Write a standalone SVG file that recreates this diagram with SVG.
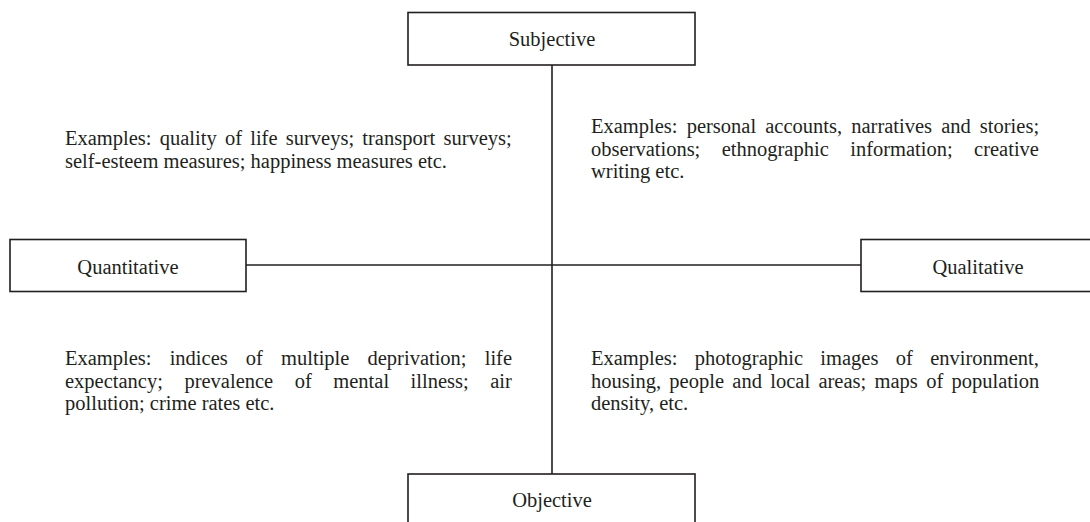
<svg xmlns="http://www.w3.org/2000/svg" width="1090" height="522" viewBox="0 0 1090 522">
<style>
.box{fill:#fff;stroke:#231f20;stroke-width:1.6}
.ln{stroke:#231f20;stroke-width:1.6;fill:none}
.lbl{font-family:"Liberation Serif","Times New Roman",serif;font-size:20.5px;fill:#231f20;text-anchor:middle}
.tx{font-family:"Liberation Serif","Times New Roman",serif;font-size:20.5px;fill:#231f20}
</style>
<rect width="1090" height="522" fill="#fff"/>
<g id="connectors">
<line class="ln" x1="552" y1="65" x2="552" y2="474"/>
<line class="ln" x1="246" y1="265" x2="861" y2="265"/>
</g>
<g id="subjective">
<rect class="box" x="408" y="12.5" width="287" height="52.5"/>
<text class="lbl" x="552" y="46">Subjective</text>
</g>
<g id="quantitative">
<rect class="box" x="10" y="239.5" width="236" height="52"/>
<text class="lbl" x="128" y="274">Quantitative</text>
</g>
<g id="qualitative">
<rect class="box" x="861" y="239.5" width="240" height="52"/>
<text class="lbl" x="978" y="274">Qualitative</text>
</g>
<g id="objective">
<rect class="box" x="408" y="474" width="287" height="60"/>
<text class="lbl" x="552" y="507">Objective</text>
</g>
<g id="example-top-left">
<text class="tx" x="65" y="145" style="word-spacing:3.1px">Examples: quality of life surveys; transport surveys;</text>
<text class="tx" x="65" y="168">self-esteem measures; happiness measures etc.</text>
</g>
<g id="example-top-right">
<text class="tx" x="591" y="133" style="word-spacing:4px">Examples: personal accounts, narratives and stories;</text>
<text class="tx" x="591" y="155.5" style="word-spacing:16.3px">observations; ethnographic information; creative</text>
<text class="tx" x="591" y="178">writing etc.</text>
</g>
<g id="example-bottom-left">
<text class="tx" x="65" y="365" style="word-spacing:13px">Examples: indices of multiple deprivation; life</text>
<text class="tx" x="65" y="388" style="word-spacing:16.4px">expectancy; prevalence of mental illness; air</text>
<text class="tx" x="65" y="410">pollution; crime rates etc.</text>
</g>
<g id="example-bottom-right">
<text class="tx" x="591" y="365" style="word-spacing:12.2px">Examples: photographic images of environment,</text>
<text class="tx" x="591" y="388" style="word-spacing:3.2px">housing, people and local areas; maps of population</text>
<text class="tx" x="591" y="410">density, etc.</text>
</g>
</svg>
